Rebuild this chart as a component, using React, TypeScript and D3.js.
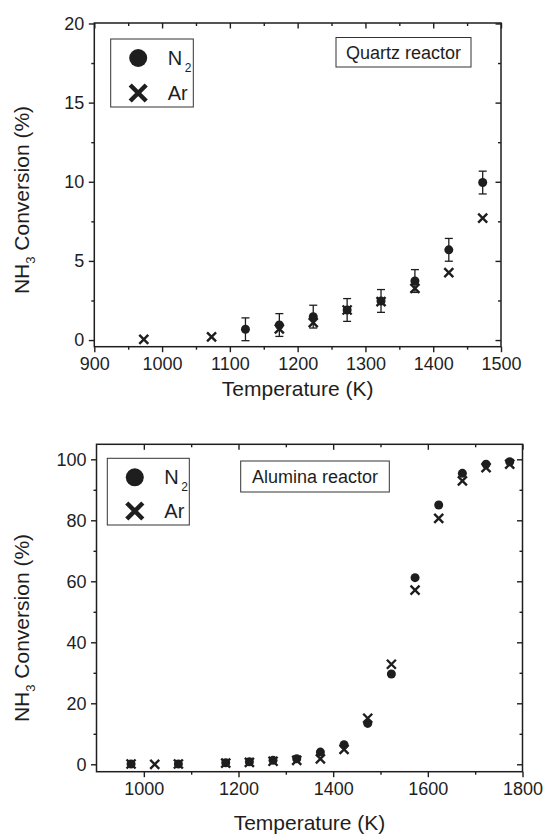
import React, { useEffect, useRef } from "react";
import * as d3 from "d3";

// quartz reactor (top panel)
const quartzN2Temps = [1123, 1173, 1223, 1273, 1323, 1373, 1423, 1473];
const quartzN2 = [0.68, 0.95, 1.48, 1.9, 2.47, 3.73, 5.7, 9.95];
const quartzN2Err = [0.72, 0.72, 0.72, 0.72, 0.72, 0.72, 0.72, 0.72];
const quartzArTemps = [973, 1073, 1173, 1223, 1273, 1323, 1373, 1423, 1473];
const quartzAr = [0.04, 0.2, 0.7, 1.1, 1.9, 2.43, 3.27, 4.26, 7.7];

// alumina reactor (bottom panel)
const aluminaN2Temps = [973, 1073, 1173, 1223, 1273, 1323, 1373, 1423, 1473, 1523, 1573, 1623, 1673, 1723, 1773];
const aluminaN2 = [0.1, 0.1, 0.5, 0.8, 1.3, 1.8, 4.0, 6.4, 13.4, 29.6, 61.2, 85.0, 95.4, 98.4, 99.2];
const aluminaArTemps = [973, 1023, 1073, 1173, 1223, 1273, 1323, 1373, 1423, 1473, 1523, 1573, 1623, 1673, 1723, 1773];
const aluminaAr = [0.1, 0.0, 0.1, 0.4, 0.6, 1.0, 1.3, 1.8, 4.9, 15.1, 32.8, 57.1, 80.6, 92.9, 97.3, 98.4];

// ticks
const quartzXTicks = [900, 1000, 1100, 1200, 1300, 1400, 1500];
const quartzXMinor = [950, 1050, 1150, 1250, 1350, 1450];
const quartzYTicks = [0, 5, 10, 15, 20];
const quartzYMinor = [2.5, 7.5, 12.5, 17.5];
const aluminaXTicks = [1000, 1200, 1400, 1600, 1800];
const aluminaXMinor = [1100, 1300, 1500, 1700];
const aluminaYTicks = [0, 20, 40, 60, 80, 100];
const aluminaYMinor = [10, 30, 50, 70, 90];

const ink = "#1e1e1e";
const font = "'Liberation Sans', Arial, Helvetica, sans-serif";

const Panel = ({ frame, xDomain, yDomain, xTicks, xMinor, yTicks, yMinor, n2Temps, n2, n2Err, arTemps, ar, legend, label, labelBox, titleY, xTitleY }) => {
  const ref = useRef(null);

  useEffect(() => {
    const g = d3.select(ref.current);
    g.selectAll("*").remove();

    const x = d3.scaleLinear().domain(xDomain).range([frame.x0, frame.x1]);
    const y = d3.scaleLinear().domain(yDomain).range([frame.y1, frame.y0]);

    // ejes
    const styleAxis = (sel) => {
      sel.select(".domain").remove();
      sel.selectAll("line").attr("stroke", ink).attr("stroke-width", 1.4);
      sel.selectAll("text").attr("fill", ink).style("font-family", font).style("font-size", "18px");
    };

    g.append("g").attr("transform", `translate(0,${frame.y1})`)
      .call(d3.axisBottom(x).tickValues(xTicks).tickSize(5.5).tickPadding(5).tickFormat(d3.format("d")))
      .call(styleAxis);
    g.append("g").attr("transform", `translate(0,${frame.y1})`)
      .call(d3.axisBottom(x).tickValues(xMinor).tickSize(3).tickFormat(() => ""))
      .call(styleAxis);
    g.append("g").attr("transform", `translate(0,${frame.y0})`)
      .call(d3.axisTop(x).tickValues(xTicks).tickSize(-5.5).tickFormat(() => ""))
      .call(styleAxis);
    g.append("g").attr("transform", `translate(0,${frame.y0})`)
      .call(d3.axisTop(x).tickValues(xMinor).tickSize(-3).tickFormat(() => ""))
      .call(styleAxis);

    g.append("g").attr("transform", `translate(${frame.x0},0)`)
      .call(d3.axisLeft(y).tickValues(yTicks).tickSize(5.5).tickPadding(4.5).tickFormat(d3.format("d")))
      .call(styleAxis);
    g.append("g").attr("transform", `translate(${frame.x0},0)`)
      .call(d3.axisLeft(y).tickValues(yMinor).tickSize(3).tickFormat(() => ""))
      .call(styleAxis);
    g.append("g").attr("transform", `translate(${frame.x1},0)`)
      .call(d3.axisRight(y).tickValues(yTicks).tickSize(-5.5).tickFormat(() => ""))
      .call(styleAxis);
    g.append("g").attr("transform", `translate(${frame.x1},0)`)
      .call(d3.axisRight(y).tickValues(yMinor).tickSize(-3).tickFormat(() => ""))
      .call(styleAxis);

    g.append("rect")
      .attr("x", frame.x0).attr("y", frame.y0)
      .attr("width", frame.x1 - frame.x0).attr("height", frame.y1 - frame.y0)
      .attr("fill", "none").attr("stroke", ink).attr("stroke-width", 1.5);

    // barras de error
    if (n2Err) {
      const eb = g.append("g").attr("stroke", ink).attr("stroke-width", 1.3);
      n2.forEach((v, i) => {
        const cx = x(n2Temps[i]);
        const lo = y(v - n2Err[i]);
        const hi = y(v + n2Err[i]);
        eb.append("line").attr("x1", cx).attr("x2", cx).attr("y1", lo).attr("y2", hi);
        eb.append("line").attr("x1", cx - 4).attr("x2", cx + 4).attr("y1", lo).attr("y2", lo);
        eb.append("line").attr("x1", cx - 4).attr("x2", cx + 4).attr("y1", hi).attr("y2", hi);
      });
    }

    // puntos N2
    g.append("g").selectAll("circle").data(n2).enter().append("circle")
      .attr("cx", (d, i) => x(n2Temps[i])).attr("cy", (d) => y(d))
      .attr("r", 4.5).attr("fill", ink);

    // cruces Ar
    const cross = (s) => `M${-s},${-s}L${s},${s}M${-s},${s}L${s},${-s}`;
    g.append("g").selectAll("path").data(ar).enter().append("path")
      .attr("transform", (d, i) => `translate(${x(arTemps[i])},${y(d)})`)
      .attr("d", cross(4.5)).attr("stroke", ink).attr("stroke-width", 2.4).attr("fill", "none");

    // leyenda
    const leg = g.append("g").attr("transform", `translate(${legend.x},${legend.y})`);
    leg.append("rect").attr("width", legend.w).attr("height", legend.h)
      .attr("fill", "white").attr("stroke", "#333").attr("stroke-width", 1);
    leg.append("circle").attr("cx", 27.5).attr("cy", 19).attr("r", 9).attr("fill", ink);
    leg.append("path").attr("transform", `translate(27.5,${legend.h - 14})`).attr("d", cross(8))
      .attr("stroke", ink).attr("stroke-width", 4.5).attr("fill", "none");
    const t1 = leg.append("text").attr("x", 57).attr("y", 26).attr("fill", ink)
      .style("font-family", font).style("font-size", "20px");
    t1.append("tspan").text("N");
    t1.append("tspan").attr("dx", 2.5).attr("dy", 7).style("font-size", "12px").text("2");
    leg.append("text").attr("x", 57).attr("y", legend.h - 7).attr("fill", ink)
      .style("font-family", font).style("font-size", "20px").text("Ar");

    // etiqueta del reactor
    g.append("rect").attr("x", labelBox.x).attr("y", labelBox.y)
      .attr("width", labelBox.w).attr("height", labelBox.h)
      .attr("fill", "white").attr("stroke", "#333").attr("stroke-width", 1);
    g.append("text").attr("x", labelBox.x + labelBox.w / 2).attr("y", labelBox.y + labelBox.h / 2 + 6.5)
      .attr("text-anchor", "middle").attr("fill", ink)
      .style("font-family", font).style("font-size", "18px").text(label);

    // titulos de los ejes
    g.append("text").attr("x", (frame.x0 + frame.x1) / 2).attr("y", xTitleY)
      .attr("text-anchor", "middle").attr("fill", ink)
      .style("font-family", font).style("font-size", "21px").text("Temperature (K)");

    const yt = g.append("text").attr("transform", `translate(29,${titleY}) rotate(-90)`)
      .attr("text-anchor", "middle").attr("fill", ink)
      .style("font-family", font).style("font-size", "21px");
    yt.append("tspan").text("NH");
    yt.append("tspan").attr("dy", 6).style("font-size", "13px").text("3");
    yt.append("tspan").attr("dy", -6).text(" Conversion (%)");
  }, []);

  return <g ref={ref} />;
};

export default function App() {
  return (
    <svg width={547} height={836} style={{ position: "absolute", left: 0, top: 0, background: "white" }}>
      <Panel
        frame={{ x0: 94.3, x1: 501, y0: 23, y1: 346.7 }}
        xDomain={[900, 1500]}
        yDomain={[-0.42, 20.03]}
        xTicks={quartzXTicks}
        xMinor={quartzXMinor}
        yTicks={quartzYTicks}
        yMinor={quartzYMinor}
        n2Temps={quartzN2Temps}
        n2={quartzN2}
        n2Err={quartzN2Err}
        arTemps={quartzArTemps}
        ar={quartzAr}
        legend={{ x: 110.7, y: 39, w: 82.6, h: 68 }}
        label="Quartz reactor"
        labelBox={{ x: 336, y: 37.5, w: 135, h: 29.5 }}
        titleY={200}
        xTitleY={396}
      />
      <Panel
        frame={{ x0: 96.5, x1: 522.5, y0: 444.3, y1: 771.7 }}
        xDomain={[900, 1800]}
        yDomain={[-2.43, 104.92]}
        xTicks={aluminaXTicks}
        xMinor={aluminaXMinor}
        yTicks={aluminaYTicks}
        yMinor={aluminaYMinor}
        n2Temps={aluminaN2Temps}
        n2={aluminaN2}
        n2Err={null}
        arTemps={aluminaArTemps}
        ar={aluminaAr}
        legend={{ x: 107.3, y: 458.3, w: 82, h: 66.7 }}
        label="Alumina reactor"
        labelBox={{ x: 240.7, y: 461, w: 148.6, h: 31 }}
        titleY={628}
        xTitleY={830}
      />
    </svg>
  );
}
